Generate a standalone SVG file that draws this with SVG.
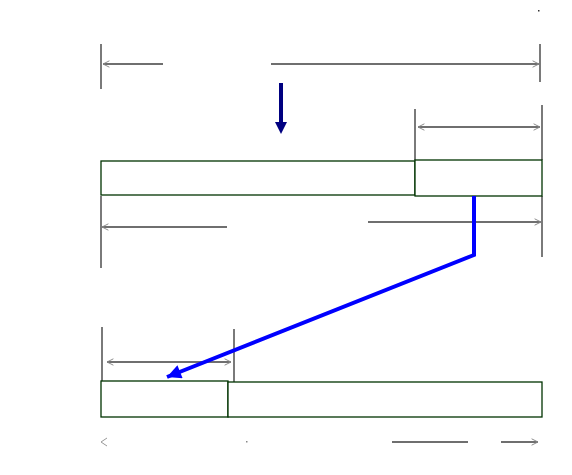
<svg xmlns="http://www.w3.org/2000/svg" width="572" height="475" viewBox="0 0 572 475">
<defs>
<style>
.tick{stroke:#7a7a7a;stroke-width:2;fill:none}
.dim{stroke:#6f6f6f;stroke-width:2;fill:none}
.box{fill:#ffffff;stroke:#003300;stroke-width:1.3}
</style>
<marker id="oa" viewBox="0 0 10 10" refX="9" refY="5" markerWidth="8" markerHeight="8" markerUnits="userSpaceOnUse" orient="auto-start-reverse">
<path d="M1,1 L9,5 L1,9" fill="none" stroke="#888888" stroke-width="1.2"/>
</marker>
<marker id="blue" viewBox="0 0 10 10" refX="10" refY="5" markerWidth="16" markerHeight="14" markerUnits="userSpaceOnUse" orient="auto">
<path d="M0,0 L10,5 L0,10 Z" fill="#0000ff"/>
</marker>
</defs>
<rect width="572" height="475" fill="#ffffff"/>
<g id="ticks">
<line class="tick" x1="101" y1="44" x2="101" y2="89"/>
<line class="tick" x1="540" y1="44" x2="540" y2="82"/>
<line class="tick" x1="415" y1="109" x2="415" y2="160"/>
<line class="tick" x1="542" y1="105" x2="542" y2="160"/>
<line class="tick" x1="101" y1="196" x2="101" y2="268"/>
<line class="tick" x1="542" y1="196" x2="542" y2="257"/>
<line class="tick" x1="102" y1="327" x2="102" y2="381"/>
<line class="tick" x1="234" y1="329" x2="234" y2="385"/>
</g>
<g id="box-top-left"><rect class="box" x="101" y="161" width="314" height="34"/></g>
<g id="box-top-right"><rect class="box" x="415" y="160" width="127" height="36"/></g>
<g id="box-bottom-left"><rect class="box" x="101" y="381" width="127" height="36"/></g>
<g id="box-bottom-right"><rect class="box" x="228" y="382" width="314" height="35"/></g>
<g id="connectors">
<line class="dim" x1="163" y1="64" x2="103" y2="64" marker-end="url(#oa)"/>
<line class="dim" x1="271" y1="64" x2="539" y2="64" marker-end="url(#oa)"/>
<line class="dim" x1="418" y1="127" x2="540" y2="127" marker-start="url(#oa)" marker-end="url(#oa)"/>
<line class="dim" x1="227" y1="227" x2="102" y2="227" marker-end="url(#oa)"/>
<line class="dim" x1="368" y1="222" x2="541" y2="222" marker-end="url(#oa)"/>
<line class="dim" x1="107" y1="362" x2="231" y2="362" marker-start="url(#oa)" marker-end="url(#oa)"/>
<path d="M107,438 L101,442 L107,446" fill="none" stroke="#999999" stroke-width="1"/>
<rect x="246" y="441" width="1.5" height="1.5" fill="#888888"/>
<line class="dim" x1="392" y1="442" x2="468" y2="442"/>
<line class="dim" x1="501" y1="442" x2="538" y2="442" marker-end="url(#oa)"/>
<line x1="281" y1="83" x2="281" y2="124" stroke="#000080" stroke-width="4"/>
<path d="M275,122 L287,122 L281,134 Z" fill="#000080"/>
<polyline points="474,196 474,255 167,377" fill="none" stroke="#0000ff" stroke-width="4" marker-end="url(#blue)"/>
</g>
<rect x="538" y="10" width="1.5" height="1.5" fill="#333333"/>
</svg>
